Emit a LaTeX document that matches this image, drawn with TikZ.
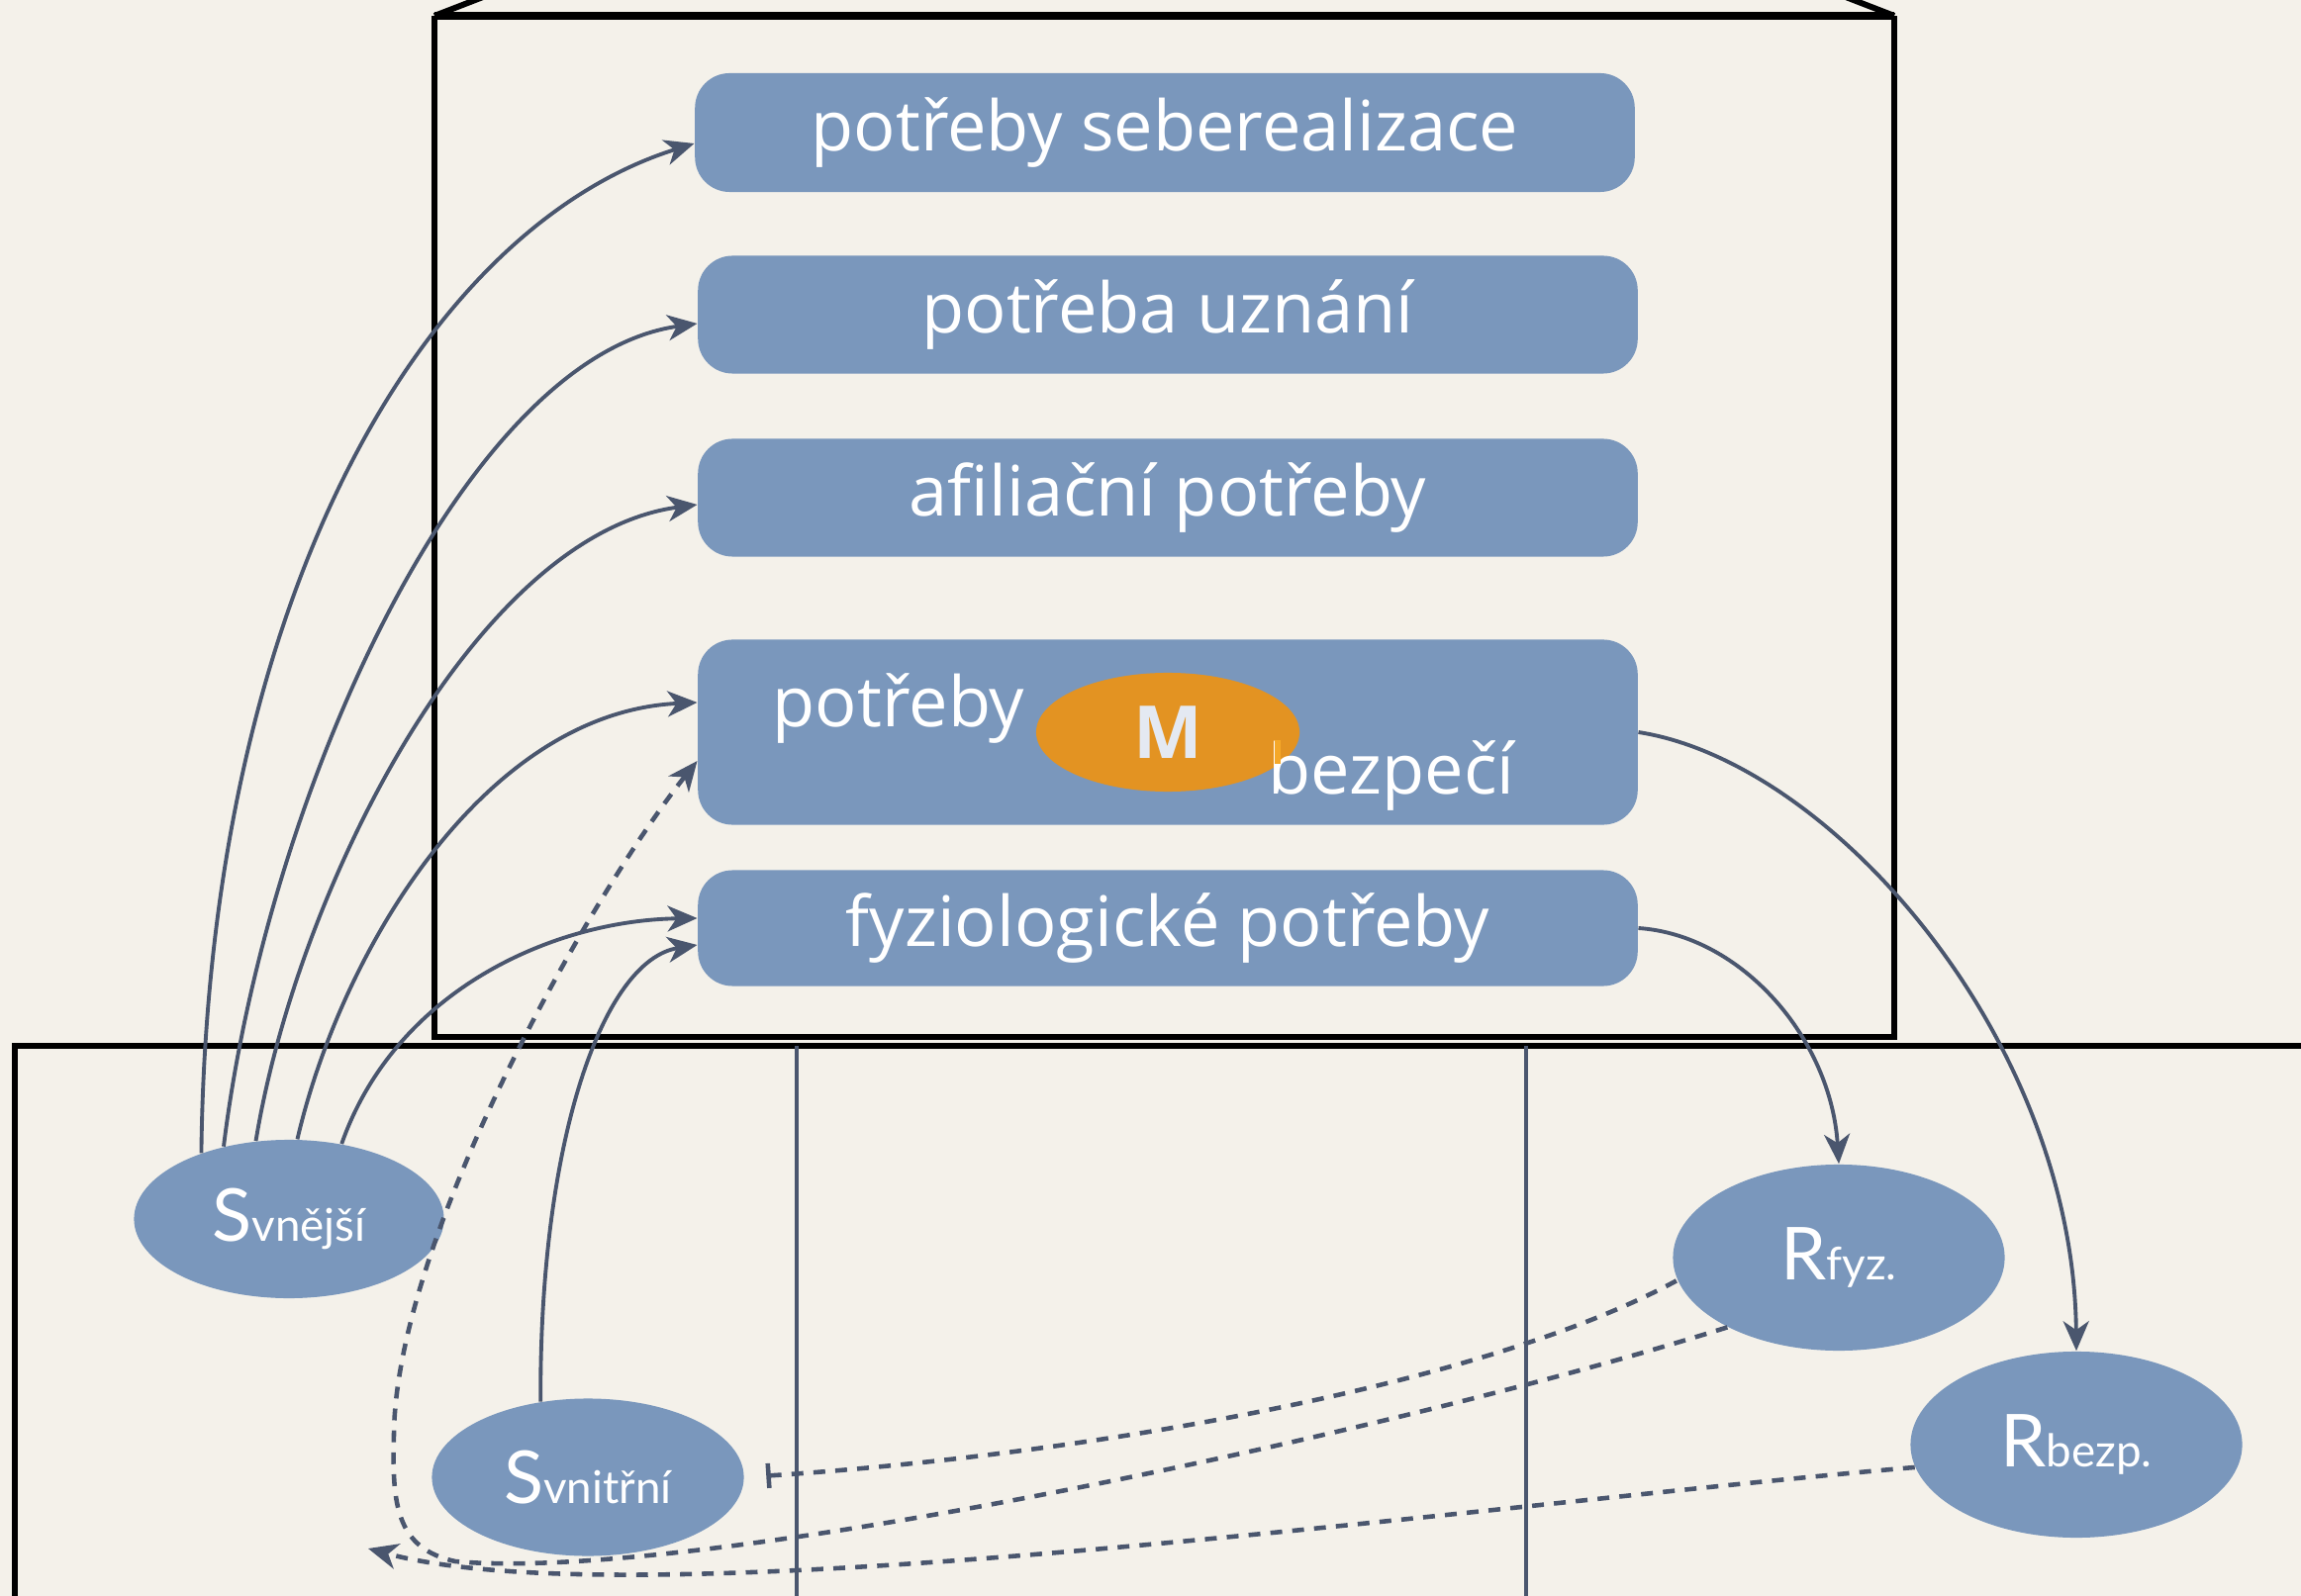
\documentclass[tikz,border=0pt]{standalone}
\usepackage{fontspec}
\setmainfont{Open Sans}
\newfontfamily\ovalfont{Lato}
\usetikzlibrary{arrows.meta,shapes.geometric}

\definecolor{paper}{RGB}{244,241,234}
\definecolor{boxblue}{RGB}{122,151,188}
\definecolor{linkgray}{RGB}{74,86,110}
\definecolor{morange}{RGB}{227,147,34}
\definecolor{mlight}{RGB}{245,168,40}
\definecolor{mtext}{RGB}{228,233,242}

\newcommand{\sublab}[2]{{\ovalfont\fontsize{21}{24}\selectfont #1}{\ovalfont\fontsize{13}{16}\selectfont #2}}

\tikzset{
	need/.style={fill=boxblue, rounded corners=0.35cm, minimum width=9.49cm, inner sep=0pt, text=white, font=\fontsize{20}{24}\selectfont},
	needtext/.style={anchor=base, inner sep=0pt, text=white, font=\fontsize{20}{24}\selectfont},
	oval/.style={ellipse, fill=boxblue, inner sep=0pt, text=white},
	frame/.style={line width=1.7pt},
	link/.style={draw=linkgray, line width=1.1pt},
	dlink/.style={draw=linkgray, line width=1.3pt, dash pattern=on 3.4pt off 2.9pt},
	>={Stealth[length=0.3cm,width=0.26cm,inset=0.09cm]}
}

\begin{document}
\begin{tikzpicture}[x=0.01cm, y=-0.01cm]
\useasboundingbox (0,0) rectangle (2325,1613);
\fill[paper] (0,0) rectangle (2325,1613);
\clip (0,0) rectangle (2325,1613);

% frames
\draw[frame] (439,16) -- (439,1048) -- (1914,1048) -- (1914,16);
\draw[line width=2.4pt] (439,16) -- (1914,16);
\draw[frame] (439,16) -- (488,-3);
\draw[frame] (1914,16) -- (1865,-3);
\draw[frame] (15,1700) -- (15,1057) -- (2400,1057);
\draw[link] (805,1057) -- (805,1700);
\draw[link] (1542,1057) -- (1542,1700);

% needs
\node[need, minimum height=1.2cm] (n1) at (1177,134) {potřeby seberealizace};
\node[need, minimum height=1.19cm] (n2) at (1180,318) {potřeba uznání};
\node[need, minimum height=1.19cm] (n3) at (1180,503) {afiliační potřeby};
\node[need, minimum height=1.87cm] (n4) at (1180,740) {};
\node[need, minimum height=1.17cm] (n5) at (1180,938) {fyziologické potřeby};
\node[ellipse, fill=morange, minimum width=2.66cm, minimum height=1.2cm, inner sep=0pt, text=mtext, font=\bfseries\fontsize{21}{24}\selectfont] (m) at (1180,740) {M};
\node[needtext] (n4a) at (908,735) {potřeby};
\node[needtext] (n4b) at (1406,803) {bezpečí};
\draw[mlight, line width=1.5pt] (1291,748) -- (1291,772);

% stimuli and reactions
\node[oval, minimum width=3.13cm, minimum height=1.6cm] (sv) at (292,1232) {\sublab{S}{vnější}};
\node[oval, minimum width=3.15cm, minimum height=1.59cm] (si) at (594,1493) {\sublab{S}{vnitřní}};
\node[oval, minimum width=3.35cm, minimum height=1.88cm] (rf) at (1858,1271) {\sublab{R}{fyz.}};
\node[oval, minimum width=3.35cm, minimum height=1.88cm] (rb) at (2098,1460) {\sublab{R}{bezp.}};

% links
\draw[link, ->] (sv.143) .. controls (210,600) and (430,230) .. ([yshift=-0.11cm]n1.west);
\draw[link, ->] (sv.132) .. controls (270,800) and (470,360) .. ([yshift=-0.09cm]n2.west);
\draw[link, ->] (sv.113) .. controls (300,900) and (480,540) .. ([yshift=-0.07cm]n3.west);
\draw[link, ->] (sv.84) .. controls (345,960) and (490,720) .. ([yshift=0.3cm]n4.west);
\draw[link, ->] (sv.55) .. controls (400,1000) and (560,930) .. ([yshift=0.1cm]n5.west);
\draw[link, ->] (si.122) .. controls (545,1150) and (610,970) .. ([yshift=-0.17cm]n5.west);
\draw[link, ->] (n4.east) .. controls (1850,770) and (2095,1050) .. (rb.north);
\draw[link, ->] (n5.east) .. controls (1760,945) and (1850,1050) .. (rf.north);

% dashed links
\draw[dlink, {Bar[width=0.25cm]}-, shorten <=0.22cm] (si.east) .. controls (1100,1470) and (1500,1400) .. (rf.188);
\coordinate (bend) at (460,1578);
\coordinate (rise) at (398,1450);
\draw[dlink, ->] (rf.212) .. controls (1400,1450) and (700,1600) .. (bend) .. controls (400,1565) and (396,1520) .. (rise) .. controls (400,1250) and (600,900) .. ([yshift=-0.29cm]n4.west);
\draw[dlink, ->] (rb.188) .. controls (1500,1520) and (650,1640) .. (372,1565);

\end{tikzpicture}
\end{document}
